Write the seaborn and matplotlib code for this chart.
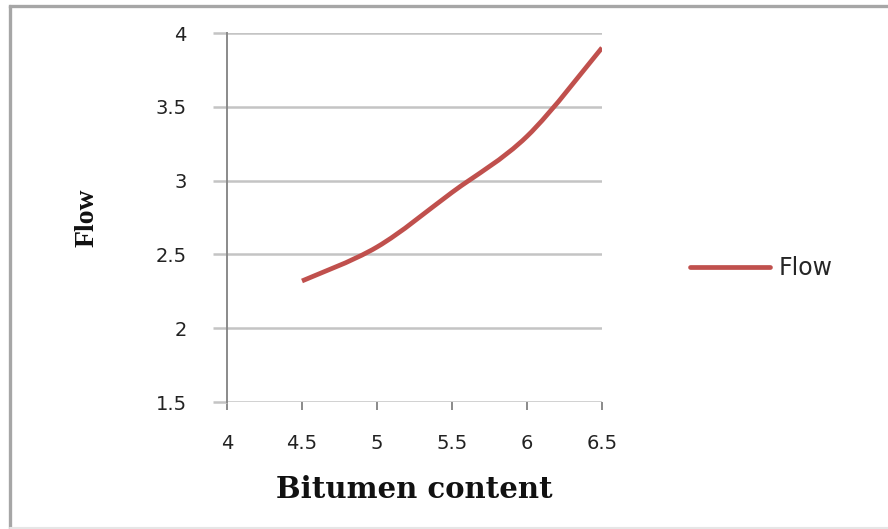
import matplotlib
matplotlib.use("Agg")
import matplotlib.pyplot as plt
from matplotlib.patches import PathPatch
from matplotlib.path import Path
from matplotlib.lines import Line2D
import numpy as np
import pandas as pd
import seaborn as sns

# Marshall test: flow against bitumen content
bitumen_content = [4.5, 5.0, 5.5, 6.0, 6.5]
flow = [2.32, 2.55, 2.92, 3.30, 3.90]
series_name = "Flow"

x_ticks = [4, 4.5, 5, 5.5, 6, 6.5]
y_ticks = [1.5, 2, 2.5, 3, 3.5, 4]

df = pd.DataFrame({"Bitumen content": bitumen_content, "Flow": flow, "series": series_name})

sns.set_theme(style="white")
plt.rcParams["font.family"] = ["DejaVu Sans"]

W, H = 888, 529
fig = plt.figure(figsize=(W / 100, H / 100), dpi=100)
ax = fig.add_axes([227 / W, 1 - 402 / H, (602 - 227) / W, (402 - 33) / H])

grid_c = "#c4c4c4"
axis_c = "#8a8a8a"
line_c = "#c0504d"
line_w = 3.4

sns.lineplot(data=df, x="Bitumen content", y="Flow", hue="series",
             palette=[line_c], linewidth=line_w, ax=ax, legend=True, zorder=3)

ax.set_xlim(4, 6.5)
ax.set_ylim(1.5, 4)
ax.set_xticks(x_ticks)
ax.set_yticks(y_ticks)
ax.set_xticklabels([f"{v:g}" for v in x_ticks])
ax.set_yticklabels([f"{v:g}" for v in y_ticks])

ax.yaxis.grid(True, color=grid_c, linewidth=1.8)
ax.xaxis.grid(False)
ax.set_axisbelow(True)

for side in ("top", "right", "bottom"):
    ax.spines[side].set_visible(False)
ax.spines["left"].set_color(axis_c)
ax.spines["left"].set_linewidth(1.4)
ax.spines["left"].set_zorder(2)

ax.tick_params(axis="y", which="major", direction="out", length=10, width=1.8,
               color=grid_c, pad=19, labelsize=14, labelcolor="#222222", left=True)
ax.tick_params(axis="x", which="major", direction="out", length=6, width=1.4,
               color=axis_c, pad=17, labelsize=14, labelcolor="#222222", bottom=True)

ax.set_xlabel("Bitumen content", fontsize=21, fontweight="bold",
              family=["DejaVu Serif"], labelpad=16, color="#111111")
ax.set_ylabel("Flow", fontsize=20, fontweight="bold",
              family=["Liberation Serif"], labelpad=40, color="#111111")

leg = ax.legend(loc="center left", bbox_to_anchor=(690 / W, 1 - 268 / H),
                bbox_transform=fig.transFigure, frameon=False, fontsize=17,
                handlelength=3.4, handletextpad=0.35, borderpad=0, borderaxespad=0)
for h in leg.get_lines():
    h.set_linewidth(line_w)

# Smoothed series line: cubic Bezier segments through the data points
# (Catmull-Rom style control points), drawn in data coordinates.
pts = np.column_stack([bitumen_content, flow])
ext = np.vstack([pts[0], pts, pts[-1]])
verts = [tuple(pts[0])]
codes = [Path.MOVETO]
for i in range(len(pts) - 1):
    p0, p1, p2, p3 = ext[i], ext[i + 1], ext[i + 2], ext[i + 3]
    c1 = p1 + (p2 - p0) / 6.0
    c2 = p2 - (p3 - p1) / 6.0
    verts += [tuple(c1), tuple(c2), tuple(p2)]
    codes += [Path.CURVE4, Path.CURVE4, Path.CURVE4]
for ln in ax.lines:
    ln.set_visible(False)
ax.add_patch(PathPatch(Path(verts, codes), facecolor="none", edgecolor=line_c,
                       linewidth=line_w, capstyle="butt", joinstyle="round",
                       zorder=3, transform=ax.transData))

# Chart area frame
frame_kw = dict(transform=fig.transFigure, zorder=0)
fig.add_artist(Line2D([9.5 / W, 9.5 / W], [0, 1 - 5.5 / H], color="#a6a6a6", linewidth=2.4, **frame_kw))
fig.add_artist(Line2D([9.5 / W, 1.0], [1 - 5.5 / H, 1 - 5.5 / H], color="#a6a6a6", linewidth=2.4,
                      solid_capstyle="projecting", **frame_kw))
fig.add_artist(Line2D([9.5 / W, 1.0], [1.2 / H, 1.2 / H], color="#e6e6e6", linewidth=1.5, **frame_kw))

fig.savefig("out.png", dpi=100, facecolor="white")
